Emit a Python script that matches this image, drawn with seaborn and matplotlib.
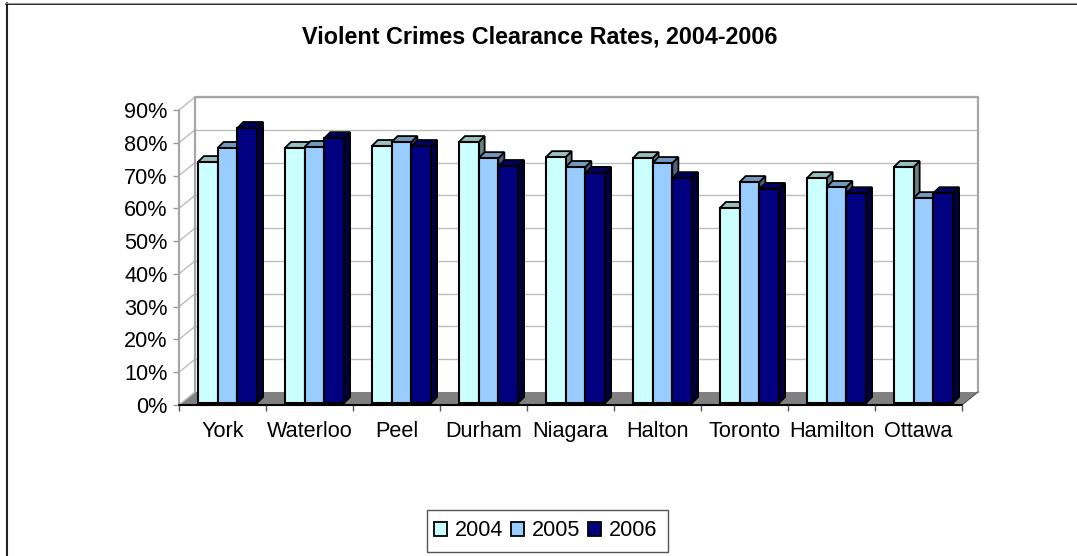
import matplotlib
matplotlib.use("Agg")
import matplotlib.pyplot as plt
import pandas as pd
import seaborn as sns
from matplotlib.colors import to_rgb
from matplotlib.lines import Line2D
from matplotlib.patches import Patch, Polygon, Rectangle
from matplotlib.transforms import Affine2D

# Values
regions = ['York', 'Waterloo', 'Peel', 'Durham', 'Niagara', 'Halton', 'Toronto', 'Hamilton', 'Ottawa']
rate_2004 = [73.5, 77.8, 78.4, 79.6, 75, 74.7, 59.5, 68.6, 72]
rate_2005 = [77.8, 78.1, 79.6, 74.7, 72, 73.2, 67.4, 65.9, 62.5]
rate_2006 = [83.9, 80.8, 78.4, 72.3, 70.2, 68.6, 65.3, 64, 64]
years = ['2004', '2005', '2006']
y_ticks = [0, 10, 20, 30, 40, 50, 60, 70, 80, 90]
colors = ['#CCFFFF', '#99CCFF', '#000080']

W, H = 1077, 556
# front plane of the fake 3D box, in pixels
LEFT, RIGHT, TOP, BOTTOM = 179, 962, 110, 405
WALL_DX, WALL_DY = 16, 13   # how far the back wall sits behind the front plane
BAR_DX, BAR_DY = 5, 2       # bars stand a bit inside the box
DEPTH_X, DEPTH_Y = 6, 6     # depth of one bar

df = pd.DataFrame({
    'region': regions * 3,
    'year': sum([[y] * len(regions) for y in years], []),
    'rate': rate_2004 + rate_2005 + rate_2006,
})

sns.set_theme(style='white')
plt.rcParams['font.family'] = ['Liberation Sans', 'DejaVu Sans']

fig = plt.figure(figsize=(W / 100, H / 100), dpi=100)
ax = fig.add_axes([LEFT / W, 1 - BOTTOM / H, (RIGHT - LEFT) / W, (BOTTOM - TOP) / H])
sns.barplot(data=df, x='region', y='rate', hue='year', palette=colors, saturation=1,
            width=0.68, gap=0, edgecolor='black', linewidth=1.5, legend=False, ax=ax)
ax.set_xlim(-0.5, len(regions) - 0.5)
ax.set_ylim(0, 90)
ax.patch.set_visible(False)
for s in ax.spines.values():
    s.set_visible(False)

# outer frame only shows on the left and top, it runs off the picture elsewhere
fig.add_artist(Line2D([6.5 / W, 6.5 / W], [0, 1 - 3 / H], color='#222222', lw=1.5))
fig.add_artist(Line2D([6 / W, 1], [1 - 4 / H, 1 - 4 / H], color='black', lw=1.2))
fig.add_artist(Line2D([6 / W, 1], [1 - 3 / H, 1 - 3 / H], color='#999999', lw=0.8))

back = ax.transData + Affine2D().translate(WALL_DX, WALL_DY)
grid_c = '#BDBDBD'
x0, x1 = ax.get_xlim()

# floor
floor = [ax.transData.transform(p) for p in [(x0, 0), (x1, 0)]]
floor += [back.transform(p) for p in [(x1, 0), (x0, 0)]]
ax.add_patch(Polygon(floor, closed=True, transform=None, fc='#808080', ec='none', zorder=0.5, clip_on=False))

# gridlines on back wall and side wall
for t in y_ticks[1:]:
    ax.plot([x0, x1], [t, t], transform=back, color=grid_c, lw=1, zorder=0.6, clip_on=False)
for t in y_ticks:
    a = ax.transData.transform((x0, t))
    b = back.transform((x0, t))
    ax.plot([a[0], b[0]], [a[1], b[1]], transform=None, color=grid_c, lw=1, zorder=0.6, clip_on=False)
ax.plot([x1, x1, x0, x0], [0, 90, 90, 0], transform=back, color='#A6A6A6', lw=1.6, zorder=0.7, clip_on=False)
ax.plot([x0, x0], [0, 90], color='#A6A6A6', lw=1.6, zorder=0.7, clip_on=False)
a = ax.transData.transform((x1, 0))
b = back.transform((x1, 0))
ax.plot([a[0], b[0]], [a[1], b[1]], transform=None, color='#555555', lw=0.8, zorder=0.7, clip_on=False)
ax.plot([x0, x1], [0, 0], color='black', lw=1.5, zorder=0.8, clip_on=False)

# bar tops and sides come from the bars seaborn drew
bars = sorted([p for p in ax.patches if isinstance(p, Rectangle) and p.get_height() > 0],
              key=lambda p: p.get_x())
shift = ax.transData + Affine2D().translate(BAR_DX, BAR_DY)
z = 2.0
for bar in bars:
    c = to_rgb(bar.get_facecolor()[:3])
    left, right = bar.get_x(), bar.get_x() + bar.get_width()
    h = bar.get_height()
    pl, pr = shift.transform((left, h))[0], shift.transform((right, h))[0]
    yt, yb = shift.transform((left, h))[1], shift.transform((left, 0))[1]
    top = [(pl, yt), (pl + DEPTH_X, yt + DEPTH_Y), (pr + DEPTH_X, yt + DEPTH_Y), (pr, yt)]
    side = [(pr, yb), (pr + DEPTH_X, yb + DEPTH_Y), (pr + DEPTH_X, yt + DEPTH_Y), (pr, yt)]
    ax.add_patch(Polygon(side, closed=True, transform=None, fc=[v * 0.5 for v in c], ec='black', lw=1.3,
                         zorder=z, clip_on=False))
    ax.add_patch(Polygon(top, closed=True, transform=None, fc=[v * 0.75 for v in c], ec='black', lw=1.3,
                         zorder=z + 0.1, clip_on=False))
    bar.set_transform(shift)
    bar.set_clip_on(False)
    bar.set_zorder(z + 0.2)
    z += 1

ax.set_xlabel('')
ax.set_ylabel('')
ax.set_yticks(y_ticks)
ax.set_yticklabels([f'{t}%' for t in y_ticks])
ax.set_xticks([i - 0.5 for i in range(len(regions) + 1)])
ax.set_xticklabels([''] * (len(regions) + 1))
ax.tick_params(axis='y', left=True, length=4.3, width=1, color='#999999', labelsize=15.6,
               labelcolor='black', pad=4)
ax.tick_params(axis='x', bottom=True, length=4.3, width=1, color='#555555')
for i, name in enumerate(regions):
    ax.annotate(name, (i, 0), xytext=(0, -32), textcoords='offset pixels', ha='center', va='baseline',
                fontsize=15.6, color='black', annotation_clip=False)

fig.text(540 / W, 1 - 37 / H, 'Violent Crimes Clearance Rates, 2004-2006', ha='center', va='center',
         fontsize=16.8, fontweight='bold', color='black')

# legend box is drawn by hand so it can be taller than the border padding allows
fig.add_artist(Rectangle((427 / W, 1 - 552 / H), 241 / W, 42 / H, transform=fig.transFigure,
                         fc='white', ec='#555555', lw=1))
handles = [Patch(fc=c, ec='black', lw=1.3, label=y) for c, y in zip(colors, years)]
leg = fig.legend(handles=handles, loc='center', bbox_to_anchor=(546 / W, 1 - 531 / H), ncol=3,
                 fontsize=15.6, frameon=False, handlelength=0.6, handleheight=0.6, handletextpad=0.37,
                 columnspacing=0.35, borderpad=0, borderaxespad=0, labelcolor='black')
leg.set_zorder(5)

fig.savefig('out.png', dpi=100)
